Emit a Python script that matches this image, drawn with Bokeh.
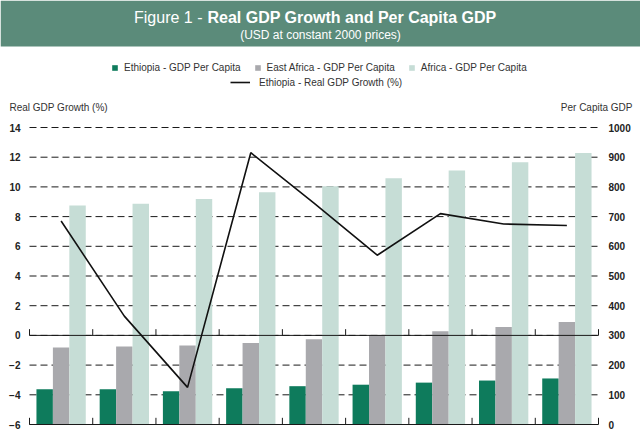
from bokeh.plotting import figure
from bokeh.models import (Range1d, LinearAxis, FixedTicker, Label, BoxAnnotation,
                          Legend, LegendItem, ColumnDataSource)
from bokeh.transform import dodge
from bokeh.embed import file_html
from bokeh.resources import INLINE

# ---------------- data ----------------
categories = ["2000", "2001", "2002", "2003", "2004", "2005", "2006", "2007", "2008"]
ethiopia_pc = [119, 119, 112, 122, 129, 134, 141, 148, 155]
east_africa_pc = [259, 263, 266, 274, 287, 301, 314, 328, 345]
africa_pc = [737, 743, 759, 782, 802, 829, 855, 883, 914]
ethiopia_growth = [7.7, 1.3, -3.5, 12.3, 8.9, 5.4, 8.2, 7.5, 7.4]
left_ticks = [-6, -4, -2, 0, 2, 4, 6, 8, 10, 12, 14]
right_ticks = [0, 100, 200, 300, 400, 500, 600, 700, 800, 900, 1000]

# ---------------- layout / styles ----------------
W, H = 640, 442
PX_L, PX_R = 29, 598      # plot area, page pixels
PY_T, PY_B = 127, 424
FONT = "Liberation Sans"
C_ETH = "#0e7b5c"
C_EAF = "#a9a9ad"
C_AFR = "#c6ddd6"
C_HEAD = "#5b8b7a"
C_INK = "#1a1a1a"
BAR_W = 0.26

n = len(categories)
lo, hi = left_ticks[0], left_ticks[-1]
rlo, rhi = right_ticks[0], right_ticks[-1]
xs = (PX_R - PX_L) / n
ys = (PY_B - PY_T) / (hi - lo)
x_start, x_end = -PX_L / xs, n + (W - PX_R) / xs
y_start, y_end = lo - (H - PY_B) / ys, hi + PY_T / ys
k = (rhi - rlo) / (hi - lo)
ry_start, ry_end = rlo + (y_start - lo) * k, rlo + (y_end - lo) * k

src = ColumnDataSource(dict(
    cat=categories,
    x=[i + 0.5 for i in range(n)],
    eth=ethiopia_pc, eaf=east_africa_pc, afr=africa_pc, g=ethiopia_growth,
))

p = figure(width=W, height=H, output_backend="svg", toolbar_location=None,
           x_range=Range1d(x_start, x_end), y_range=Range1d(y_start, y_end),
           x_axis_location=None, y_axis_location=None,
           min_border=0, min_border_left=0, min_border_right=0,
           min_border_top=0, min_border_bottom=0)
p.extra_y_ranges = {"right": Range1d(ry_start, ry_end)}
p.outline_line_color = None
p.background_fill_color = "white"
p.border_fill_color = "white"
p.grid.visible = False

# dashed grid lines across the plot area (behind bars)
p.segment(x0=[0] * len(left_ticks), x1=[n] * len(left_ticks), y0=left_ticks, y1=left_ticks,
          line_color=C_INK, line_width=1, line_dash="7 4")

# axes at fixed locations inside the canvas
def style_axis(ax, standoff):
    ax.axis_line_color = None
    ax.major_tick_line_color = None
    ax.minor_tick_line_color = None
    ax.major_tick_in = 0
    ax.major_tick_out = 0
    ax.minor_tick_in = 0
    ax.minor_tick_out = 0
    ax.major_label_standoff = standoff
    ax.major_label_text_font = FONT
    ax.major_label_text_font_style = "bold"
    ax.major_label_text_font_size = "10px"
    ax.major_label_text_color = "#222222"

lax = LinearAxis(ticker=FixedTicker(ticks=left_ticks), fixed_location=0)
style_axis(lax, 9)
p.add_layout(lax, "left")
rax = LinearAxis(y_range_name="right", ticker=FixedTicker(ticks=right_ticks), fixed_location=n)
style_axis(rax, 10)
p.add_layout(rax, "right")

# bars
r_eth = p.vbar(x=dodge("x", -BAR_W, range=p.x_range), top="eth", bottom=0, width=BAR_W,
               source=src, y_range_name="right", fill_color=C_ETH, line_color=None)
r_eaf = p.vbar(x=dodge("x", 0, range=p.x_range), top="eaf", bottom=0, width=BAR_W,
               source=src, y_range_name="right", fill_color=C_EAF, line_color=None)
r_afr = p.vbar(x=dodge("x", BAR_W, range=p.x_range), top="afr", bottom=0, width=BAR_W,
               source=src, y_range_name="right", fill_color=C_AFR, line_color=None)

# zero line and baseline, with small upward ticks at group boundaries
p.segment(x0=[0, 0], x1=[n, n], y0=[0, lo], y1=[0, lo], line_color=C_INK, line_width=1)
bx = list(range(n + 1))
p.segment(x0=bx, x1=bx, y0=[0] * len(bx), y1=[0.42] * len(bx), line_color=C_INK, line_width=1)
p.segment(x0=bx, x1=bx, y0=[lo] * len(bx), y1=[lo + 0.45] * len(bx), line_color=C_INK, line_width=1)

# growth line
r_line = p.line(x="x", y="g", source=src, line_color="#111111", line_width=1.6)

# ---------------- header band and texts (screen units, from bottom-left) ----------------
def sy(page_y):
    return H - page_y

p.add_layout(BoxAnnotation(left=0, right=W, bottom=sy(46), top=sy(0),
                           left_units="screen", right_units="screen",
                           bottom_units="screen", top_units="screen",
                           fill_color=C_HEAD, fill_alpha=1, line_color=None, level="underlay"))
p.add_layout(Label(x=202, y=sy(17), x_units="screen", y_units="screen", text="Figure 1 -",
                   text_font=FONT, text_font_size="16px", text_color="white",
                   text_align="right", text_baseline="middle"))
p.add_layout(Label(x=207, y=sy(17), x_units="screen", y_units="screen",
                   text="Real GDP Growth and Per Capita GDP",
                   text_font=FONT, text_font_size="16px", text_font_style="bold",
                   text_color="white", text_align="left", text_baseline="middle"))
p.add_layout(Label(x=320, y=sy(34), x_units="screen", y_units="screen",
                   text="(USD at constant 2000 prices)",
                   text_font=FONT, text_font_size="12px", text_color="white",
                   text_align="center", text_baseline="middle"))

p.add_layout(Label(x=9, y=sy(107), x_units="screen", y_units="screen", text="Real GDP Growth (%)",
                   text_font=FONT, text_font_size="10px", text_color="#333333",
                   text_align="left", text_baseline="middle"))
p.add_layout(Label(x=632, y=sy(107), x_units="screen", y_units="screen", text="Per Capita GDP",
                   text_font=FONT, text_font_size="10px", text_color="#333333",
                   text_align="right", text_baseline="middle"))

# ---------------- legends ----------------
def make_legend(items, loc, glyph_w, glyph_h, standoff):
    return Legend(items=items, location=loc, orientation="horizontal",
                  glyph_width=glyph_w, glyph_height=glyph_h, label_height=12,
                  label_standoff=standoff, spacing=13, padding=0, margin=0,
                  border_line_color=None, background_fill_alpha=0,
                  label_text_font=FONT, label_text_font_size="10px",
                  label_text_color="#333333")

p.add_layout(make_legend([
    LegendItem(label="Ethiopia - GDP Per Capita", renderers=[r_eth]),
    LegendItem(label="East Africa - GDP Per Capita", renderers=[r_eaf]),
    LegendItem(label="Africa - GDP Per Capita", renderers=[r_afr]),
], (111, sy(73)), 7, 7, 6), "center")
p.add_layout(make_legend([
    LegendItem(label="Ethiopia - Real GDP Growth (%)", renderers=[r_line]),
], (230, sy(88)), 20, 10, 9), "center")

open("out.html", "w").write(file_html(p, INLINE))
